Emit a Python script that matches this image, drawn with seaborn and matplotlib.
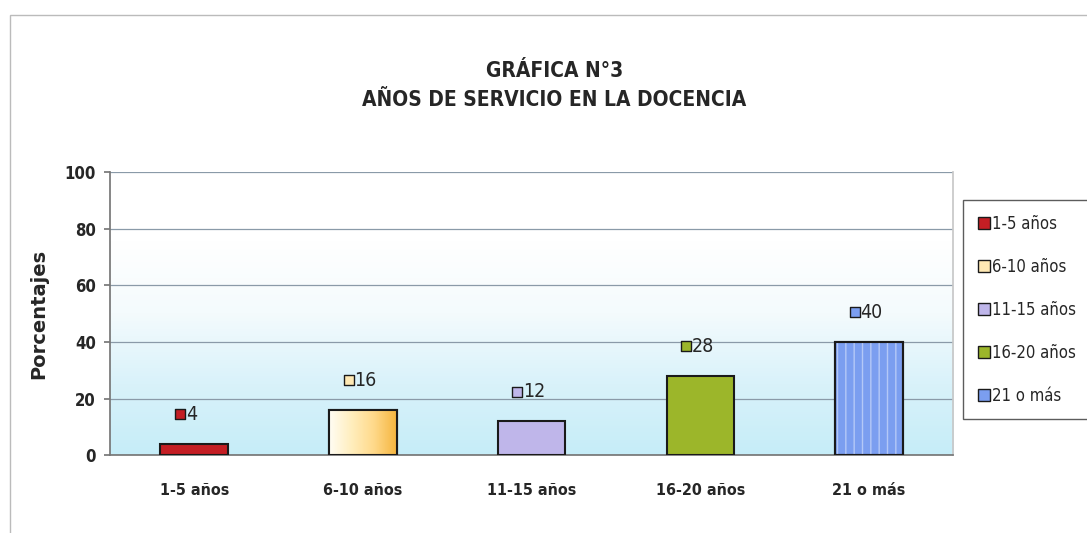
import numpy as np
import pandas as pd
import seaborn as sns
import matplotlib.pyplot as plt
from matplotlib.patches import Rectangle
from matplotlib.lines import Line2D
from matplotlib.colors import LinearSegmentedColormap

categories = ["1-5 años", "6-10 años", "11-15 años", "16-20 años", "21 o más"]
values = [4, 16, 12, 28, 40]
colors = ["#c41e24", "#ffe9b4", "#bfb6ea", "#9cb62a", "#7b9ef0"]

title = "GRÁFICA N°3\nAÑOS DE SERVICIO EN LA DOCENCIA"
ylabel = "Porcentajes"
yticks = [0, 20, 40, 60, 80, 100]

sns.set_theme(style="white")
plt.rcParams["font.family"] = ["DejaVu Sans"]
plt.rcParams["font.stretch"] = "condensed"

df = pd.DataFrame({"categoria": categories, "porcentaje": values})

fig = plt.figure(figsize=(10.87, 5.33), dpi=100)
ax = fig.add_axes([0.101, 0.146, 0.776, 0.531])

# background gradient (white at top, light cyan at bottom)
cmap = LinearSegmentedColormap.from_list("bg", ["#c6edf8", "#d9f2fa", "#f4fbfd", "#ffffff", "#ffffff"])
grad = np.linspace(0, 1, 256).reshape(-1, 1)
ax.imshow(grad, aspect="auto", cmap=cmap, origin="lower",
          extent=[-0.5, 4.5, 0, 100], zorder=0)

sns.barplot(data=df, x="categoria", y="porcentaje", hue="categoria",
            palette=colors, saturation=1, width=0.40, edgecolor="#1a1a1a",
            linewidth=1.5, legend=False, ax=ax, zorder=3)

# cream bar: horizontal white -> orange gradient
p2 = ax.patches[1]
x0, w = p2.get_x(), p2.get_width()
hcmap = LinearSegmentedColormap.from_list("cream", ["#fffdf4", "#ffeebd", "#ffd98a", "#f5b53e"])
im = ax.imshow(np.linspace(0, 1, 128).reshape(1, -1), aspect="auto", cmap=hcmap,
               extent=[x0, x0 + w, 0, values[1]], zorder=3.5)
im.set_clip_path(p2)
ax.bar(1, values[1], width=w, facecolor="none", edgecolor="#1a1a1a", linewidth=1.5, zorder=4)

# light vertical stripes on the last bar
last = ax.patches[len(values) - 1]
ax.bar(len(values) - 1, values[-1], width=last.get_width(), facecolor="none",
       edgecolor="#b4c8f7", hatch="||", linewidth=0, zorder=4)
ax.bar(len(values) - 1, values[-1], width=last.get_width(), facecolor="none",
       edgecolor="#1a1a1a", linewidth=1.5, zorder=4)

ax.set_xlim(-0.5, 4.5)
ax.set_ylim(0, 100)
ax.set_yticks(yticks)
ax.yaxis.grid(True, color="#8a9aa8", linewidth=0.9, zorder=1)
ax.set_axisbelow(True)
ax.spines["top"].set_visible(False)
ax.spines["right"].set_color("#c8c8c8")
ax.spines["left"].set_color("#777777")
ax.spines["bottom"].set_color("#777777")
ax.tick_params(axis="y", labelsize=12, left=True, length=4, color="#777777", pad=6)
ax.tick_params(axis="x", labelsize=11.5, pad=14)
for lab in ax.get_yticklabels() + ax.get_xticklabels():
    lab.set_fontweight("bold")
ax.set_xlabel("")
ax.set_ylabel(ylabel, fontsize=14, fontweight="bold", labelpad=12, fontstretch="normal")

# value labels with small colour keys
for i, (v, c) in enumerate(zip(values, colors)):
    ax.scatter(i - 0.085, v + 10.5, marker="s", s=60, color=c,
               edgecolor="#1a1a1a", linewidth=1, zorder=5)
    ax.text(i - 0.05, v + 10.5, str(v), fontsize=14, va="center", ha="left", zorder=5)

fig.suptitle(title, x=0.51, y=0.885, fontsize=15, fontweight="bold", linespacing=1.55)

handles = [Line2D([0], [0], marker="s", linestyle="none", markersize=8.5,
                  markerfacecolor=c, markeredgecolor="#1a1a1a") for c in colors]
leg = fig.legend(handles, categories, loc="upper left", bbox_to_anchor=(0.886, 0.624),
                 fontsize=12, frameon=True, fancybox=False, edgecolor="#333333",
                 handletextpad=0.1, labelspacing=1.5, borderpad=0.85, handlelength=0.8,
                 borderaxespad=0)
leg.get_frame().set_linewidth(1.0)

# outer chart border
fig.patches.append(Rectangle((0.009, -0.1), 1.2, 1.072, transform=fig.transFigure,
                             fill=False, edgecolor="#bbbbbb", linewidth=1.0))

fig.savefig("out.png", dpi=100, facecolor="white")
